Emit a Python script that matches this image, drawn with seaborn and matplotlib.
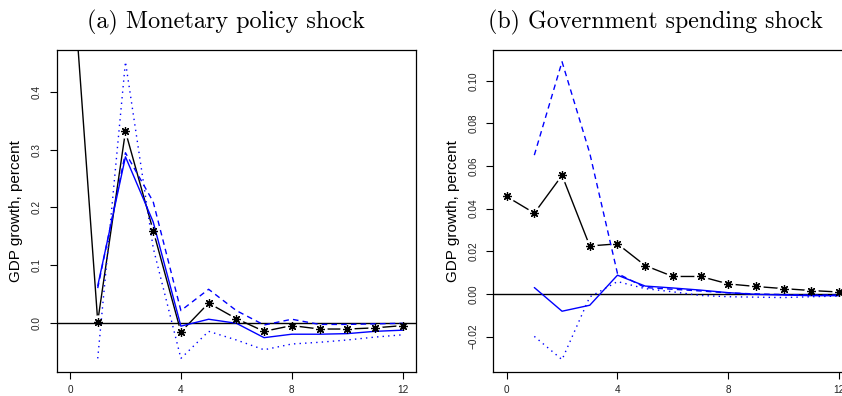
import numpy as np
import matplotlib
matplotlib.use("Agg")
import matplotlib.pyplot as plt
import seaborn as sns

sns.set_theme(style="white")
plt.rcParams["font.family"] = ["Liberation Sans", "DejaVu Sans"]
plt.rcParams["axes.unicode_minus"] = True

# Impulse-response horizons (quarters)
horizon = list(range(13))
nan = np.nan

# (a) Monetary policy shock
mp_baseline = [0.67, 0.002, 0.332, 0.160, -0.016, 0.034, 0.007, -0.015, -0.005, -0.011, -0.011, -0.009, -0.005]
mp_solid = [nan, 0.064, 0.288, 0.175, -0.006, 0.006, -0.001, -0.026, -0.020, -0.020, -0.019, -0.015, -0.013]
mp_dashed = [nan, 0.060, 0.295, 0.210, 0.021, 0.058, 0.021, -0.004, 0.006, -0.003, -0.003, -0.002, -0.001]
mp_dotted = [nan, -0.062, 0.453, 0.130, -0.062, -0.015, -0.030, -0.047, -0.037, -0.034, -0.030, -0.025, -0.021]
mp_yticks = [0.0, 0.1, 0.2, 0.3, 0.4]
mp_yticklabels = ["0.0", "0.1", "0.2", "0.3", "0.4"]

# (b) Government spending shock
gs_baseline = [0.0457, 0.0379, 0.0556, 0.0225, 0.0235, 0.0133, 0.0082, 0.0082, 0.0047, 0.0035, 0.0025, 0.0016, 0.0009]
gs_solid = [nan, 0.0030, -0.0081, -0.0053, 0.0088, 0.0037, 0.0028, 0.0018, 0.0006, -0.0002, -0.0005, -0.0008, -0.0008]
gs_dashed = [nan, 0.0651, 0.1089, 0.0660, 0.0096, 0.0030, 0.0022, 0.0014, 0.0005, 0.0000, -0.0003, -0.0005, -0.0005]
gs_dotted = [nan, -0.0199, -0.0308, -0.0014, 0.0058, 0.0025, 0.0010, -0.0007, -0.0013, -0.0015, -0.0017, -0.0013, -0.0010]
gs_yticks = [-0.02, 0.0, 0.02, 0.04, 0.06, 0.08, 0.10]
gs_yticklabels = ["\u22120.02", "0.00", "0.02", "0.04", "0.06", "0.08", "0.10"]

xticks = [0, 4, 8, 12]
xticklabels = ["0", "4", "8", "12"]
ylabel = "GDP growth, percent"

W, H = 842, 396
fig = plt.figure(figsize=(W / 100, H / 100), dpi=100)
fig.patch.set_facecolor("white")


def panel(rect_px, ylim, baseline, solid, dashed, dotted, yticks, yticklabels, label_gap):
    x0, y0, x1, y1 = rect_px
    ax = fig.add_axes([x0 / W, 1 - y1 / H, (x1 - x0) / W, (y1 - y0) / H])
    ax.set_facecolor("white")

    # baseline response: line with gaps around the asterisks
    sns.lineplot(x=horizon, y=baseline, ax=ax, color="black", lw=1.0, zorder=2)
    sns.lineplot(x=horizon, y=baseline, ax=ax, color="white", lw=0, marker="o",
                 markersize=9.5, markerfacecolor="white", markeredgecolor="white",
                 linestyle="", zorder=2.2)
    ax.axhline(0, color="black", lw=1.0, zorder=2.4)

    sns.lineplot(x=horizon, y=solid, ax=ax, color="#0000ff", lw=1.0, zorder=3)
    sns.lineplot(x=horizon, y=dashed, ax=ax, color="#0000ff", lw=1.0,
                 linestyle=(0, (4, 3)), zorder=3)
    sns.lineplot(x=horizon, y=dotted, ax=ax, color="#0000ff", lw=1.0,
                 linestyle=(0, (1, 3)), zorder=3)

    sns.lineplot(x=horizon, y=baseline, ax=ax, color="black", marker=(8, 2, 0),
                 markersize=6.2, markeredgewidth=0.9, markeredgecolor="black",
                 linestyle="", zorder=4)

    ax.set_xlim(-0.48, 12.48)
    ax.set_ylim(*ylim)
    ax.set_xticks(xticks)
    ax.set_xticklabels(xticklabels)
    ax.set_yticks(yticks)
    ax.set_yticklabels(yticklabels, rotation=90, va="center")
    ax.tick_params(axis="both", which="both", direction="out", length=5, width=0.8,
                   color="black", labelsize=7.2, labelcolor="#222222",
                   left=True, bottom=True)
    ax.tick_params(axis="x", pad=4.5)
    ax.tick_params(axis="y", pad=5.5)
    for s in ax.spines.values():
        s.set_visible(True)
        s.set_color("black")
        s.set_linewidth(0.9)
    ax.set_xlabel("")
    ax.set_ylabel(ylabel, fontsize=11, color="black")
    ax.yaxis.set_label_coords(-label_gap / (x1 - x0), 0.5)
    ax.grid(False)
    return ax


ax_a = panel((56.7, 50, 416.0, 372), (-0.0856, 0.4734),
             mp_baseline, mp_solid, mp_dashed, mp_dotted, mp_yticks, mp_yticklabels, 34)
ax_b = panel((493.3, 50, 852.5, 372), (-0.0366, 0.1144),
             gs_baseline, gs_solid, gs_dashed, gs_dotted, gs_yticks, gs_yticklabels, 33.5)

fig.text(226 / W, 1 - 28.5 / H, "(a) Monetary policy shock", family="cmr10",
         fontsize=17.4, ha="center", va="baseline", color="black")
fig.text(655 / W, 1 - 28.5 / H, "(b) Government spending shock", family="cmr10",
         fontsize=17.2, ha="center", va="baseline", color="black")

fig.savefig("out.png", dpi=100, facecolor="white")
